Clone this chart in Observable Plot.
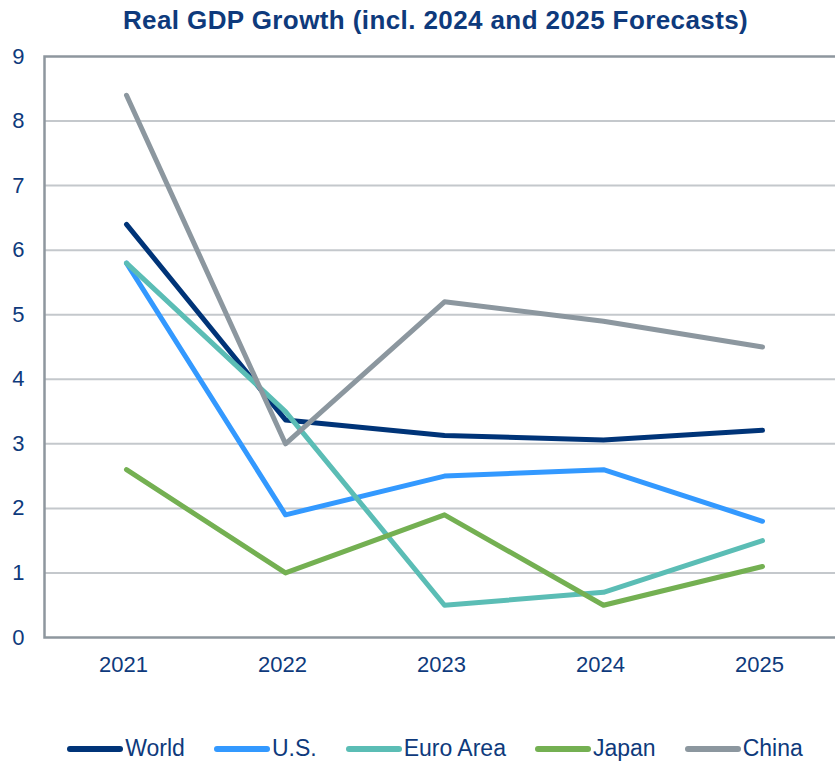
<!DOCTYPE html>
<html>
<head>
<meta charset="utf-8">
<script src="https://cdn.jsdelivr.net/npm/d3@7"></script>
<script src="https://cdn.jsdelivr.net/npm/@observablehq/plot@0.6"></script>
<style>
  body { margin: 0; background: #fff; font-family: "Liberation Sans", Arial, sans-serif; }
  #wrap { width: 835px; }
  #title { height: 40px; line-height: 40px; text-align: center; padding-left: 36px; box-sizing: border-box;
           font-weight: bold; font-size: 26px; letter-spacing: 0.4px; color: #0E3A7C; white-space: nowrap; }
  #legend { display: flex; justify-content: center; padding-left: 34px; box-sizing: border-box; margin-top: 38px;
            font-size: 23px; color: #0E3A7C; }
  .item { display: flex; align-items: center; margin: 0 14px; }
  .item svg { margin-right: 1px; }
</style>
</head>
<body>
<div id="wrap">
  <div id="title">Real GDP Growth (incl. 2024 and 2025 Forecasts)</div>
  <div id="chart"></div>
  <div id="legend"></div>
</div>
<script>
const years = ["2021", "2022", "2023", "2024", "2025"];
const seriesNames = ["World", "U.S.", "Euro Area", "Japan", "China"];
const world = [6.4, 3.37, 3.13, 3.06, 3.21];
const us = [5.8, 1.9, 2.5, 2.6, 1.8];
const euro = [5.8, 3.5, 0.5, 0.7, 1.5];
const japan = [2.6, 1.0, 1.9, 0.5, 1.1];
const china = [8.4, 3.0, 5.2, 4.9, 4.5];
const colors = ["#003478", "#3399FF", "#5BBDB5", "#74B052", "#8C979F"];
const yTicks = [0, 1, 2, 3, 4, 5, 6, 7, 8, 9];

const values = [world, us, euro, japan, china];
const data = [];
seriesNames.forEach((s, i) => years.forEach((y, j) => data.push({series: s, year: y, value: values[i][j]})));

const chart = Plot.plot({
  width: 835,
  height: 657,
  marginLeft: 44,
  marginRight: -3,
  marginTop: 16,
  marginBottom: 60,
  style: {color: "#0E3A7C", fontFamily: "'Liberation Sans', Arial, sans-serif", fontSize: "22px", background: "#fff"},
  x: {type: "point", domain: years, padding: 0.5, insetRight: -4, insetLeft: 1, label: null},
  y: {domain: [0, 9], label: null},
  color: {domain: seriesNames, range: colors},
  marks: [
    Plot.ruleY(yTicks.slice(1, 9), {stroke: "#C4C8CC", strokeWidth: 2}),
    Plot.frame({stroke: "#8E979E", strokeWidth: 2.5}),
    Plot.axisY({ticks: yTicks, tickSize: 0, tickPadding: 20, tickFormat: d => String(d), fontSize: 22, label: null}),
    Plot.axisX({tickSize: 0, tickPadding: 19, fontSize: 22, label: null, dx: -3}),
    Plot.line(data, {x: "year", y: "value", z: "series", stroke: "series", strokeWidth: 5,
                     strokeLinecap: "round", strokeLinejoin: "round"})
  ]
});
document.getElementById("chart").appendChild(chart);

const legend = document.getElementById("legend");
seriesNames.forEach((s, i) => {
  const it = document.createElement("div");
  it.className = "item";
  it.innerHTML = `<svg width="58" height="10"><line x1="4" y1="5" x2="54" y2="5" stroke="${colors[i]}" stroke-width="6" stroke-linecap="round"/></svg><span>${s}</span>`;
  legend.appendChild(it);
});
</script>
</body>
</html>
